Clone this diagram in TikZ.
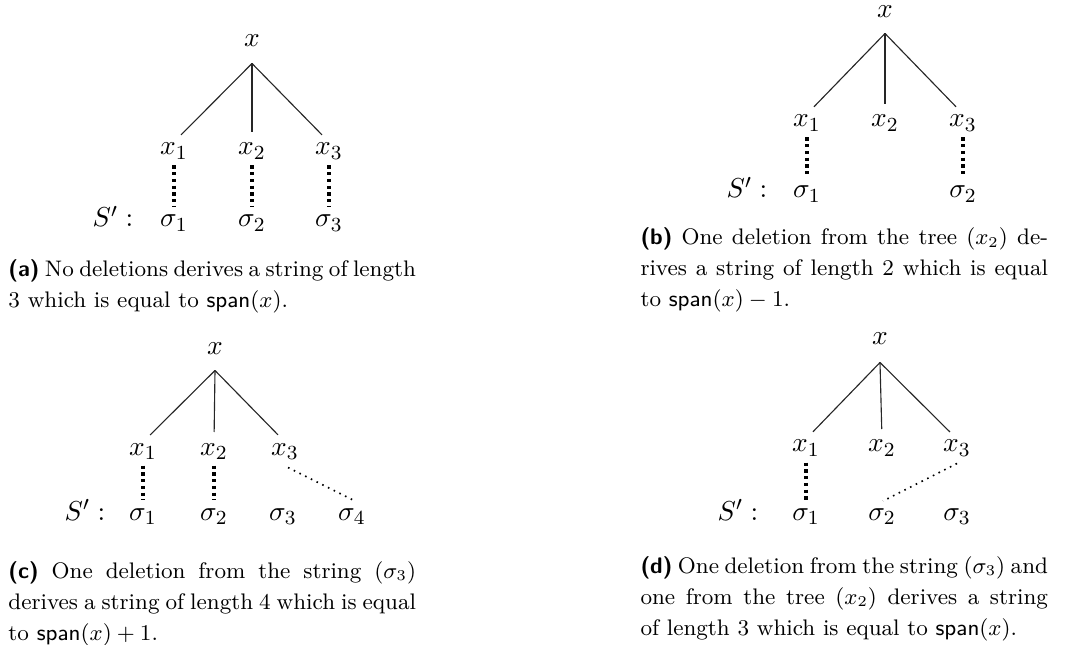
\documentclass[tikz,border=0pt]{standalone}
\usetikzlibrary{calc}
\begin{document}
\begin{tikzpicture}[x=0.4pt,y=-0.4pt,
  t/.style={inner sep=0pt, text height=5pt, text depth=0pt, anchor=base, font=\fontsize{11}{13}\selectfont},
  edge/.style={line width=0.45pt, black!85, shorten >=4pt},
  vdot/.style={line width=1.3pt, dash pattern=on 1.3pt off 1.4pt, shorten <=4pt, shorten >=2.8pt},
  ddot/.style={line width=0.65pt, dash pattern=on 0.65pt off 1.9pt},
  captxt/.style={inner sep=0pt, anchor=base west, text width=163pt, align=justify, font=\fontsize{9}{12.4}\selectfont}]
\useasboundingbox (0,0) rectangle (1080,645);
% ---------- (a)
\node[t] (ar) at (252,47) {$x$};
\node[t] (a1) at (174,155) {$x_1$};
\node[t] (a2) at (252,155) {$x_2$};
\node[t] (a3) at (329,155) {$x_3$};
\node[t] (aS) at (113,227) {$S':$};
\node[t] (as1) at (174,227) {$\sigma_1$};
\node[t] (as2) at (252,227) {$\sigma_2$};
\node[t] (as3) at (329,227) {$\sigma_3$};
\foreach \c in {a1,a2,a3} \draw[edge] ($(ar.south)+(0,16)$) -- (\c.north);
\draw[vdot] (a1.south) -- (as1.north);
\draw[vdot] (a2.south) -- (as2.north);
\draw[vdot] (a3.south) -- (as3.north);
\node[captxt] (capa) at (8,277) {\textsf{\textbf{(a)}} No deletions derives a string of length\linebreak 3 which is equal to $\textsf{span}(x)$.};
% ---------- (b)
\node[t] (br) at (885,18) {$x$};
\node[t] (b1) at (807,127) {$x_1$};
\node[t] (b2) at (885,127) {$x_2$};
\node[t] (b3) at (963,127) {$x_3$};
\node[t] (bS) at (747,198) {$S':$};
\node[t] (bs1) at (807,198) {$\sigma_1$};
\node[t] (bs2) at (963,198) {$\sigma_2$};
\foreach \c in {b1,b2,b3} \draw[edge] ($(br.south)+(0,15)$) -- (\c.north);
\draw[vdot] (b1.south) -- (bs1.north);
\draw[vdot] (b3.south) -- (bs2.north);
\node[captxt] (capb) at (640,245) {\textsf{\textbf{(b)}} One deletion from the tree ($x_2$) de-\linebreak rives a string of length 2 which is equal\linebreak to $\textsf{span}(x)-1$.};
% ---------- (c)
\node[t] (cr) at (215,355) {$x$};
\node[t] (c1) at (143,455) {$x_1$};
\node[t] (c2) at (214,455) {$x_2$};
\node[t] (c3) at (285,455) {$x_3$};
\node[t] (cS) at (85,520) {$S':$};
\node[t] (cs1) at (143,520) {$\sigma_1$};
\node[t] (cs2) at (214,520) {$\sigma_2$};
\node[t] (cs3) at (283,520) {$\sigma_3$};
\node[t] (cs4) at (352,520) {$\sigma_4$};
\foreach \c in {c1,c2,c3} \draw[edge] ($(cr.south)+(0,15)$) -- (\c.north);
\draw[vdot] (c1.south) -- (cs1.north);
\draw[vdot] (c2.south) -- (cs2.north);
\draw[ddot] ($(c3.south)+(3,12)$) -- ($(cs4.north)+(1,-7)$);
\node[captxt] (capc) at (8,578) {\textsf{\textbf{(c)}} One deletion from the string ($\sigma_3$)\linebreak derives a string of length 4 which is equal\linebreak to $\textsf{span}(x)+1$.};
% ---------- (d)
\node[t] (dr) at (880,345) {$x$};
\node[t] (d1) at (806,452) {$x_1$};
\node[t] (d2) at (882,452) {$x_2$};
\node[t] (d3) at (957,452) {$x_3$};
\node[t] (dS) at (738,520) {$S':$};
\node[t] (ds1) at (806,520) {$\sigma_1$};
\node[t] (ds2) at (882,520) {$\sigma_2$};
\node[t] (ds3) at (957,520) {$\sigma_3$};
\foreach \c in {d1,d2,d3} \draw[edge] ($(dr.south)+(0,17)$) -- (\c.north);
\draw[vdot] (d1.south) -- (ds1.north);
\draw[ddot] ($(d3.south)+(0,11)$) -- ($(ds2.north)+(1,-6)$);
\node[captxt] (capd) at (640,573) {\textsf{\textbf{(d)}} One deletion from the string ($\sigma_3$) and\linebreak one from the tree ($x_2$) derives a string\linebreak of length 3 which is equal to $\textsf{span}(x)$.};
\end{tikzpicture}
\end{document}
